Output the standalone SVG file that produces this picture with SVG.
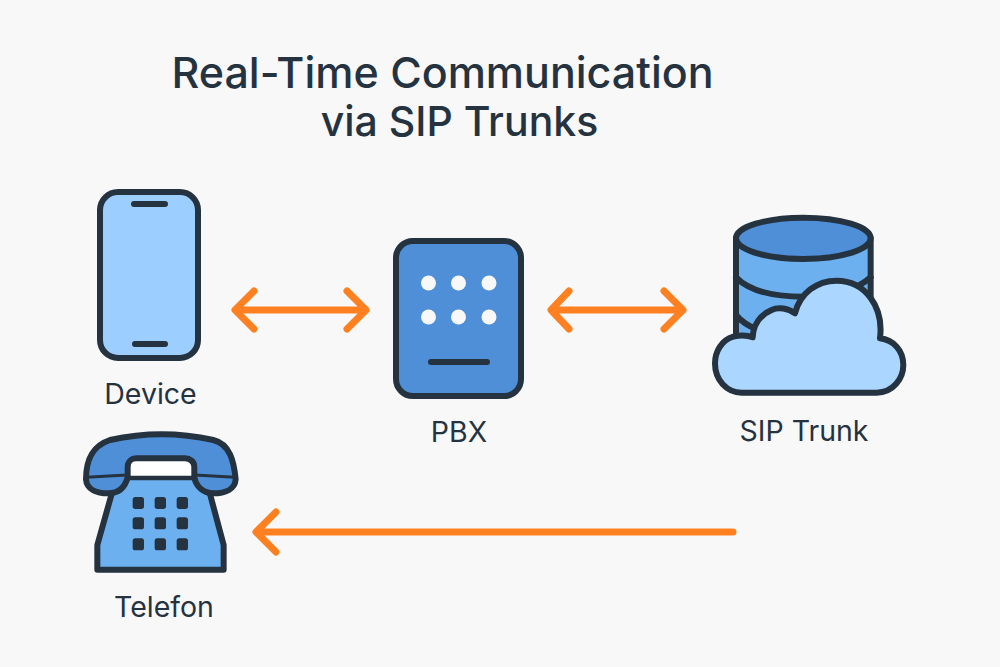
<svg xmlns="http://www.w3.org/2000/svg" width="1000" height="667" viewBox="0 0 1000 667">
<style>
.bg{fill:#f8f8f8}
.o{fill:none;stroke:#25323f;stroke-width:6;stroke-linejoin:round;stroke-linecap:round}
.z{stroke:#25323f;stroke-width:18;stroke-linejoin:round;stroke-linecap:round}
.bar{stroke:#25323f;stroke-width:6;stroke-linecap:round;fill:none}
.arrow{fill:none;stroke:#ff8020;stroke-width:7;stroke-linecap:round;stroke-linejoin:round}
text{font-family:Inter,"Liberation Sans",sans-serif;fill:#25323f;text-anchor:middle}
.title{font-weight:500}
.label{font-size:28.500px;font-weight:400}
.key{fill:#25323f}
.dot{fill:#f8f8f8}
</style>
<rect class="bg" width="1000" height="667"/>
<g id="title">
<text class="title" x="442.500" y="88" font-size="43">Real-Time Communication</text>
<text class="title" x="459.500" y="136" font-size="41">via SIP Trunks</text>
</g>
<g id="connectors">
<path class="arrow" d="M236 310H366M254 291L235 310L254 329M347 291L366 310L347 329"/>
<path class="arrow" d="M552 310H683M569 291L551 310L569 329M664 291L683 310L664 329"/>
<path class="arrow" d="M733 532H257M276 512L256 532L276 552"/>
</g>
<g id="device">
<rect class="o" x="100" y="192" width="98" height="166" rx="18" style="fill:#9ccfff"/>
<path class="bar" d="M134 204H165M135 344H165"/>
<text class="label" x="150.500" y="404">Device</text>
</g>
<g id="pbx">
<rect class="o" x="396" y="241" width="125" height="155" rx="17" style="fill:#4f8fd8"/>
<circle class="dot" cx="428.500" cy="283" r="7.500"/>
<circle class="dot" cx="458.500" cy="283" r="7.500"/>
<circle class="dot" cx="489" cy="283" r="7.500"/>
<circle class="dot" cx="428.500" cy="317" r="7.500"/>
<circle class="dot" cx="458.500" cy="317" r="7.500"/>
<circle class="dot" cx="489" cy="317" r="7.500"/>
<path class="bar" d="M431 362H487"/>
<text class="label" x="459" y="442">PBX</text>
</g>
<g id="sip-trunk">
<g transform="translate(700 200) scale(.3333)">
<path class="z" fill="#6cb0f0" d="M108 115V420H512V115Z"/>
<path class="z" fill="none" d="M108 232C150 275 230 290 310 290C400 290 470 270 512 232M108 345C125 365 145 378 170 388"/>
<ellipse class="z" fill="#4f8fd8" cx="310" cy="115" rx="202" ry="62"/>
<path class="z" fill="#aad6ff" d="M125 578H530C580 578 610 535 610 495C610 450 580 420 540 415C552 320 495 242 410 242C350 242 300 280 285 340C265 325 235 320 215 330C180 345 160 375 158 412C140 405 120 405 100 410C65 420 45 455 45 490C45 540 80 578 125 578Z"/>
</g>
<text class="label" x="804" y="441">SIP Trunk</text>
</g>
<g id="telefon">
<g transform="translate(60 420) scale(.3333)">
<path class="z" fill="#6cb0f0" d="M155 222L112 375V449H491V375L450 222L400 172H205Z"/>
<rect x="205" y="118" width="195" height="50" fill="#ffffff"/>
<path class="z" fill="#4f8fd8" d="M78 178C78 130 90 80 150 60C250 38 360 38 460 60C510 72 522 125 527 178C525 208 495 220 460 220C430 220 408 200 403 172V140C403 125 390 115 375 115H230C215 115 203 125 203 140V172C195 203 175 220 145 220C110 220 80 208 78 178Z"/>
<path class="z" fill="none" d="M80 172L200 165M405 165L525 172M205 172H400" style="stroke-width:9"/>
<g class="key">
<rect x="218" y="231" width="34" height="36" rx="8"/><rect x="284" y="231" width="34" height="36" rx="8"/><rect x="350" y="231" width="34" height="36" rx="8"/>
<rect x="218" y="292" width="34" height="36" rx="8"/><rect x="284" y="292" width="34" height="36" rx="8"/><rect x="350" y="292" width="34" height="36" rx="8"/>
<rect x="218" y="355" width="34" height="36" rx="8"/><rect x="284" y="355" width="34" height="36" rx="8"/><rect x="350" y="355" width="34" height="36" rx="8"/>
</g>
</g>
<text class="label" x="164" y="617">Telefon</text>
</g>
</svg>
